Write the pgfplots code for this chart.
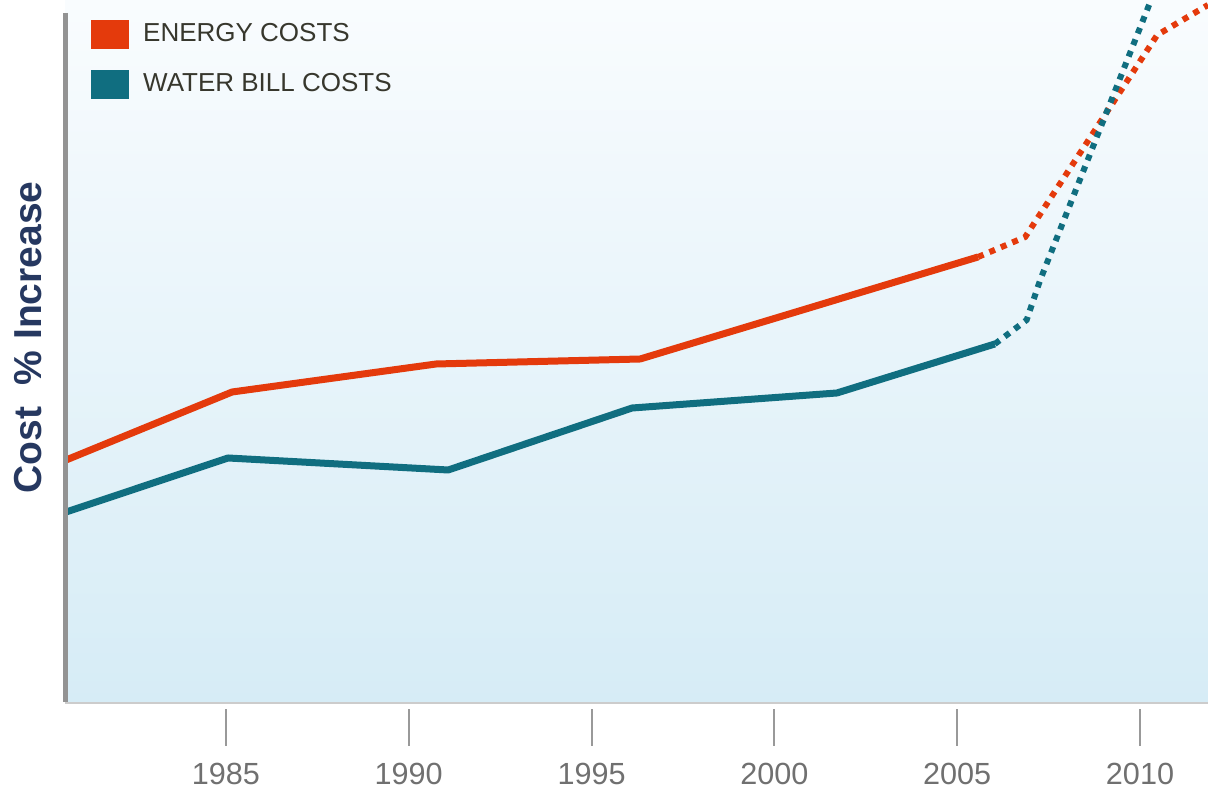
\documentclass[border=0pt]{standalone}
\usepackage{pgfplots}
\pgfplotsset{compat=1.18}
\usepackage{fontspec}
\setmainfont{Liberation Sans}
\definecolor{energy}{RGB}{228,58,12}
\definecolor{water}{RGB}{16,110,128}
\definecolor{bgtop}{RGB}{249,252,254}
\definecolor{bgbot}{RGB}{214,236,246}
\definecolor{navy}{RGB}{38,56,96}
\definecolor{legtext}{RGB}{55,55,45}
\definecolor{ticktext}{RGB}{112,112,112}
\begin{document}
\begin{tikzpicture}
\path[use as bounding box] (-32.5pt,-43.5pt) rectangle (571.5pt,351.5pt);
\begin{axis}[
  name=ax,
  at={(0,0)}, anchor=south west,
  scale only axis,
  width=571.5pt, height=351.5pt,
  xmin=1980.6, xmax=2011.86,
  ymin=0, ymax=703,
  axis x line*=bottom, axis y line*=left,
  x axis line style={draw=none},
  y axis line style={draw=none},
  axis background/.style={shade, top color=bgtop, bottom color=bgbot},
  xtick={1985,1990,1995,2000,2005,2010},
  ytick=\empty,
  tick align=outside,
  major tick length=18.5pt,
  xtick style={draw=gray!80, line width=1pt, yshift=-3pt},
  xticklabel style={font=\fontsize{15.3}{18}\selectfont, text=ticktext, yshift=-8pt},
  /pgf/number format/assume math mode=true,
  /pgf/number format/1000 sep={},
  ylabel={Cost~~\% Increase},
  every axis y label/.style={at={(axis description cs:-0.0324,0.52)}, rotate=90, anchor=center,
     font=\fontsize{19.5}{22}\selectfont\bfseries, text=navy},
  legend style={at={(axis description cs:0,1)}, anchor=north west, xshift=13pt, yshift=-9.5pt,
     draw=none, fill=none, font=\fontsize{13}{15}\selectfont, text=legtext,
     row sep=10.5pt, inner sep=0pt},
  legend cell align=left,
  legend image code/.code={\fill[#1] (0pt,-7pt) rectangle (18.5pt,7pt); \path (23.5pt,0pt);},
]
\addlegendimage{energy}
\addlegendentry{ENERGY COSTS}
\addlegendimage{water}
\addlegendentry{WATER BILL COSTS}
% energy solid
\addplot[energy, line width=3.5pt, line join=round, forget plot] coordinates {
 (1980.63,243) (1985.17,311) (1990.75,339) (1996.33,344) (2005.57,446)};
% energy projected
\addplot[energy, line width=3pt, dash pattern=on 3pt off 3.2pt, forget plot] coordinates {
 (2005.57,446) (2006.86,466) (2010.47,668) (2011.86,698)};
% water solid
\addplot[water, line width=3.5pt, line join=round, forget plot] coordinates {
 (1980.63,191) (1985.06,245) (1991.08,233) (1996.11,295) (2001.71,310) (2006.03,359)};
% water projected
\addplot[water, line width=3pt, dash pattern=on 3pt off 3.2pt, forget plot] coordinates {
 (2006.03,359) (2006.90,383) (2007.27,423) (2010.41,713)};
\end{axis}
\draw[gray!40, line width=0.8pt] (ax.south west) -- (ax.south east);
\draw[gray!85, line width=2.5pt] ([yshift=-6.5pt]ax.north west) -- ([yshift=0.4pt]ax.south west);
\end{tikzpicture}
\end{document}
